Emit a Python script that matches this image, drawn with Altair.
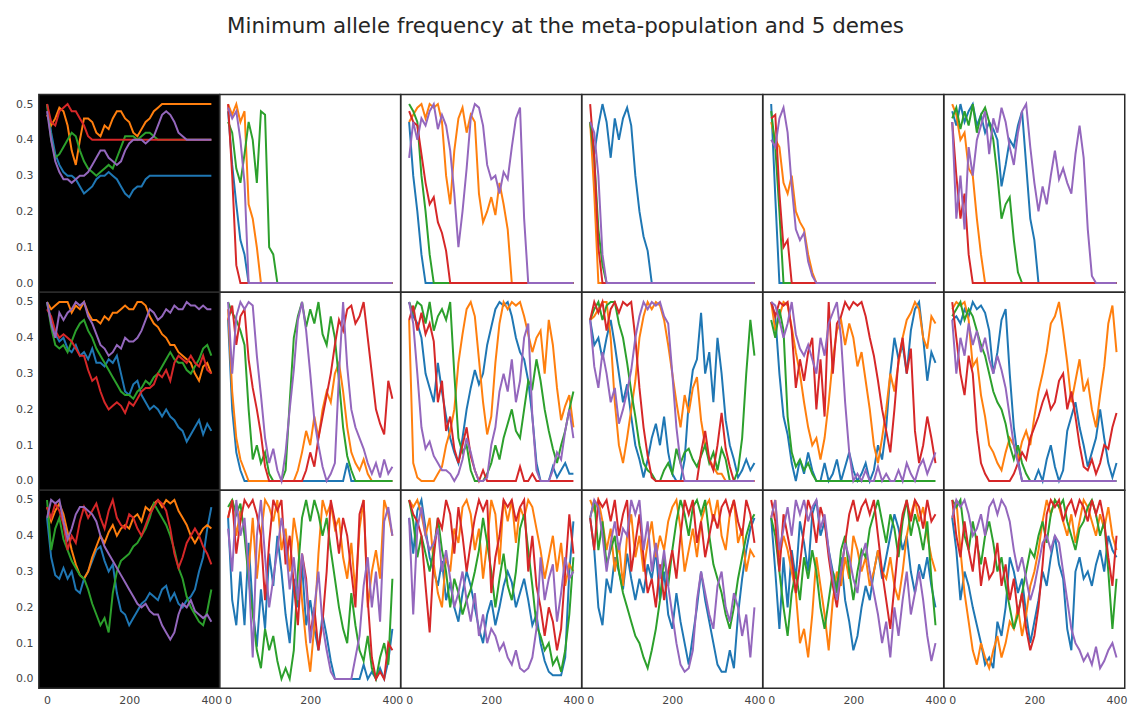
import altair as alt
import pandas as pd

GENERATIONS = list(range(0, 401, 10))
DEMES = ["deme 1", "deme 2", "deme 3", "deme 4", "deme 5"]
COLORS = ["#1f77b4", "#ff7f0e", "#2ca02c", "#d62728", "#9467bd"]
TITLE = "Minimum allele frequency at the meta-population and 5 demes"

# minimum allele frequency in hundredths, every 10 generations
# one list per line: blue, orange, green, red, purple

# row 1
r1c0 = [
    [50,42,36,33,31,30,30,29,27,25, 26,27,29,30,30,31,30,29,27,25, 24,26,27,27,29,30,30,30,30,30, 30,30,30,30,30,30,30,30,30,30, 30],
    [47,44,46,49,48,44,37,33,40,46, 46,45,42,41,44,43,46,48,48,46, 45,42,41,43,45,46,48,49,50,50, 50,50,50,50,50,50,50,50,50,50, 50],
    [50,40,35,36,38,40,42,41,37,34, 32,31,30,31,32,33,32,35,38,41, 41,41,40,41,42,42,41,40,40,40, 40,40,40,40,40,40,40,40,40,40, 40],
    [50,45,44,48,49,50,48,48,46,44, 41,40,40,40,40,40,40,40,40,40, 40,40,40,40,40,40,40,40,40,40, 40,40,40,40,40,40,40,40,40,40, 40],
    [48,40,34,31,29,29,28,29,30,30, 31,33,35,37,37,35,34,33,34,37, 39,40,40,40,39,40,41,44,47,48, 47,45,42,41,40,40,40,40,40,40, 40],
]
r1c1 = [
    [48,33,22,12,8,0,0,0,0,0, 0,0,0,0,0,0,0,0,0,0, 0,0,0,0,0,0,0,0,0,0, 0,0,0,0,0,0,0,0,0,0, 0],
    [50,47,50,45,48,22,18,10,0,0, 0,0,0,0,0,0,0,0,0,0, 0,0,0,0,0,0,0,0,0,0, 0,0,0,0,0,0,0,0,0,0, 0],
    [45,42,32,28,36,45,40,28,48,47, 10,8,0,0,0,0,0,0,0,0, 0,0,0,0,0,0,0,0,0,0, 0,0,0,0,0,0,0,0,0,0, 0],
    [50,30,5,0,0,0,0,0,0,0, 0,0,0,0,0,0,0,0,0,0, 0,0,0,0,0,0,0,0,0,0, 0,0,0,0,0,0,0,0,0,0, 0],
    [49,46,48,40,28,0,0,0,0,0, 0,0,0,0,0,0,0,0,0,0, 0,0,0,0,0,0,0,0,0,0, 0,0,0,0,0,0,0,0,0,0, 0],
]
r1c2 = [
    [45,30,20,8,0,0,0,0,0,0, 0,0,0,0,0,0,0,0,0,0, 0,0,0,0,0,0,0,0,0,0, 0,0,0,0,0,0,0,0,0,0, 0],
    [45,47,49,50,46,50,49,50,45,30, 22,37,46,49,42,47,45,25,17,20, 24,19,28,22,15,0,0,0,0,0, 0,0,0,0,0,0,0,0,0,0, 0],
    [50,48,45,30,20,8,0,0,0,0, 0,0,0,0,0,0,0,0,0,0, 0,0,0,0,0,0,0,0,0,0, 0,0,0,0,0,0,0,0,0,0, 0],
    [48,45,44,36,28,22,24,17,14,9, 0,0,0,0,0,0,0,0,0,0, 0,0,0,0,0,0,0,0,0,0, 0,0,0,0,0,0,0,0,0,0, 0],
    [35,45,40,46,44,48,50,43,47,44, 37,25,10,20,32,46,50,49,44,33, 29,30,25,31,29,38,46,49,18,0, 0,0,0,0,0,0,0,0,0,0, 0],
]
r1c3 = [
    [45,36,44,50,45,35,46,40,46,49, 44,30,20,13,9,0,0,0,0,0, 0,0,0,0,0,0,0,0,0,0, 0,0,0,0,0,0,0,0,0,0, 0],
    [45,25,0,0,0,0,0,0,0,0, 0,0,0,0,0,0,0,0,0,0, 0,0,0,0,0,0,0,0,0,0, 0,0,0,0,0,0,0,0,0,0, 0],
    [45,35,15,5,0,0,0,0,0,0, 0,0,0,0,0,0,0,0,0,0, 0,0,0,0,0,0,0,0,0,0, 0,0,0,0,0,0,0,0,0,0, 0],
    [50,35,10,0,0,0,0,0,0,0, 0,0,0,0,0,0,0,0,0,0, 0,0,0,0,0,0,0,0,0,0, 0,0,0,0,0,0,0,0,0,0, 0],
    [45,42,30,8,0,0,0,0,0,0, 0,0,0,0,0,0,0,0,0,0, 0,0,0,0,0,0,0,0,0,0, 0,0,0,0,0,0,0,0,0,0, 0],
]
r1c4 = [
    [50,24,0,0,0,0,0,0,0,0, 0,0,0,0,0,0,0,0,0,0, 0,0,0,0,0,0,0,0,0,0, 0,0,0,0,0,0,0,0,0,0, 0],
    [45,40,38,28,25,30,20,17,15,8, 3,0,0,0,0,0,0,0,0,0, 0,0,0,0,0,0,0,0,0,0, 0,0,0,0,0,0,0,0,0,0, 0],
    [48,38,20,0,0,0,0,0,0,0, 0,0,0,0,0,0,0,0,0,0, 0,0,0,0,0,0,0,0,0,0, 0,0,0,0,0,0,0,0,0,0, 0],
    [46,47,25,10,12,0,0,0,0,0, 0,0,0,0,0,0,0,0,0,0, 0,0,0,0,0,0,0,0,0,0, 0,0,0,0,0,0,0,0,0,0, 0],
    [40,38,46,49,42,27,15,12,14,6, 2,0,0,0,0,0,0,0,0,0, 0,0,0,0,0,0,0,0,0,0, 0,0,0,0,0,0,0,0,0,0, 0],
]
r1c5 = [
    [48,44,50,45,48,50,44,47,42,45, 43,40,27,33,40,38,44,48,33,18, 12,0,0,0,0,0,0,0,0,0, 0,0,0,0,0,0,0,0,0,0, 0],
    [50,47,40,42,32,30,18,8,0,0, 0,0,0,0,0,0,0,0,0,0, 0,0,0,0,0,0,0,0,0,0, 0,0,0,0,0,0,0,0,0,0, 0],
    [46,49,43,48,44,50,42,47,49,45, 40,30,18,22,24,12,3,0,0,0, 0,0,0,0,0,0,0,0,0,0, 0,0,0,0,0,0,0,0,0,0, 0],
    [45,30,18,25,8,0,0,0,0,0, 0,0,0,0,0,0,0,0,0,0, 0,0,0,0,0,0,0,0,0,0, 0,0,0,0,0,0,0,0,0,0, 0],
    [45,18,30,15,38,30,40,44,48,36, 46,42,49,45,38,33,42,48,50,38, 28,20,27,22,30,37,29,32,28,25, 36,44,35,15,2,0,0,0,0,0, 0],
]

# row 2
r2c0 = [
    [50,45,41,39,40,37,36,38,35,36, 34,37,33,33,32,34,33,35,30,25, 24,27,28,24,22,20,21,20,18,20, 18,17,15,14,11,13,15,17,13,16, 14],
    [50,48,49,50,50,50,47,49,48,50, 47,45,45,44,46,45,47,47,48,49, 48,48,50,50,49,46,44,43,41,40, 38,38,36,35,34,33,30,28,32,33, 30],
    [50,43,38,37,38,36,39,42,44,45, 42,40,37,35,33,31,29,27,25,24, 24,23,25,26,28,27,29,30,32,34, 36,34,33,33,31,30,32,34,37,38, 35],
    [48,46,42,40,41,40,39,37,35,35, 31,28,29,25,22,20,21,22,21,19, 22,21,23,25,26,26,27,30,29,31, 28,33,35,34,33,35,33,32,35,31, 30],
    [50,44,40,47,45,47,48,50,49,50, 46,44,41,38,37,35,36,38,37,40, 39,39,40,42,45,48,47,45,46,48, 47,49,48,48,50,49,49,48,49,48, 48],
]
r2c1 = [
    [45,20,8,3,0,0,0,0,0,0, 0,0,0,0,0,0,0,0,0,0, 0,0,0,0,0,0,0,0,0,5, 0,0,0,0,0,0,0,0,0,0, 0],
    [48,25,12,6,3,0,0,0,0,0, 0,0,0,0,0,0,0,3,8,14, 10,18,12,20,25,22,30,33,25,15, 8,5,3,6,2,0,0,0,0,0, 0],
    [50,47,45,42,38,20,6,10,5,8, 2,0,0,0,3,22,40,46,50,43, 48,44,50,41,38,46,40,28,15,7, 3,0,0,0,0,0,0,0,0,0, 0],
    [45,49,38,46,48,34,26,20,13,4, 0,0,0,0,0,0,0,0,0,3, 8,4,12,18,24,30,38,45,42,48, 49,44,46,50,40,30,20,16,13,28, 23],
    [50,30,46,50,48,50,49,35,24,12, 5,9,3,0,8,20,31,45,50,42, 30,17,10,4,0,2,5,30,50,32, 20,15,12,9,5,2,5,1,6,2, 4],
]
r2c2 = [
    [50,46,44,40,30,26,22,33,25,18, 12,8,5,12,20,26,31,27,30,38, 43,48,50,49,50,46,40,36,34,28, 18,5,0,0,0,4,1,3,5,2, 2],
    [45,5,1,0,0,0,0,2,4,10, 14,20,33,41,48,50,46,34,22,13, 18,33,44,50,48,50,49,50,46,41, 36,40,42,30,45,38,26,17,21,24, 15],
    [50,47,50,49,44,50,42,46,48,45, 50,30,12,8,10,3,0,0,0,2, 5,10,6,12,16,20,14,12,20,28, 26,34,28,20,14,9,5,10,14,20, 25],
    [45,49,42,47,41,44,39,22,28,14, 18,9,5,10,15,7,3,0,3,0, 0,0,0,0,0,0,0,4,0,0, 2,0,0,0,0,0,0,0,0,0, 0],
    [50,44,30,15,9,11,7,5,3,3, 2,0,2,6,12,8,3,0,0,1, 10,15,25,30,25,34,22,28,40,44, 18,3,0,0,0,3,8,6,14,20, 12],
]
r2c3 = [
    [45,38,40,34,40,45,38,30,22,27, 18,10,6,1,6,12,16,10,18,8, 2,0,0,6,22,31,34,47,30,36, 22,40,30,17,10,6,1,3,6,3, 5],
    [45,46,48,50,50,40,22,10,5,12, 20,28,40,46,50,48,50,49,45,38, 30,22,15,24,19,26,29,17,10,6, 4,2,2,0,0,0,0,0,0,0, 0],
    [45,48,50,45,49,50,50,44,40,33, 25,18,10,5,3,2,0,0,3,5, 2,9,5,8,9,6,4,7,10,5, 8,3,9,6,0,0,3,12,30,45, 35],
    [45,50,47,50,42,48,50,47,50,49, 50,40,26,15,7,1,0,0,0,0, 0,0,0,0,0,0,0,8,14,6, 3,10,19,9,4,0,0,0,0,0, 0],
    [45,32,26,36,30,22,26,16,20,25, 31,40,46,50,48,50,49,50,46,44, 30,15,5,0,0,0,0,0,0,0, 0,0,0,0,0,0,0,0,0,0, 0],
]
r2c4 = [
    [50,46,30,18,13,5,0,6,2,8, 3,0,0,5,0,2,6,0,4,8, 3,0,2,5,0,3,10,6,15,30, 40,34,38,30,42,48,50,40,28,36, 33],
    [50,42,46,50,49,43,36,30,22,15, 10,12,6,12,22,34,42,45,38,44, 40,32,36,28,20,10,5,12,20,30, 25,33,40,45,47,50,48,40,37,46, 44],
    [45,40,48,42,18,8,4,6,3,5, 2,0,0,0,0,0,0,0,0,0, 0,0,0,0,0,0,0,0,0,0, 0,0,0,0,0,0,0,0,0,0, 0],
    [50,46,50,49,50,42,26,34,28,36, 40,20,34,18,50,30,44,46,50,48, 50,49,50,46,40,35,28,20,14,8, 20,34,40,30,37,14,5,10,18,12, 5],
    [50,49,45,40,44,50,41,37,35,38, 34,30,40,35,44,47,50,40,22,8, 0,2,0,3,0,0,4,0,2,0, 0,3,0,5,2,0,4,6,2,5, 8],
]
r2c5 = [
    [45,46,44,48,46,50,48,49,47,42, 30,36,45,48,30,15,6,0,0,0, 0,3,0,6,10,4,0,3,14,18, 22,15,10,4,8,12,20,12,5,1, 5],
    [48,50,49,50,45,32,34,24,18,10, 8,5,3,8,12,10,6,11,14,10, 18,25,30,36,44,46,50,42,33,22, 28,34,25,28,20,15,24,32,44,49, 36],
    [46,48,50,45,48,46,42,38,35,30, 25,22,20,16,10,6,10,5,2,0, 0,0,0,0,0,0,0,0,0,0, 0,0,0,0,0,0,0,0,0,0, 0],
    [50,40,30,24,35,30,14,5,2,0, 0,0,0,0,0,2,5,8,6,12, 15,18,22,25,20,22,28,30,20,25, 18,10,4,3,6,2,5,10,9,15, 19],
    [45,30,40,35,44,38,42,36,40,34, 30,35,31,26,18,10,5,0,0,0, 0,0,0,0,0,0,0,0,0,0, 0,0,0,0,0,0,0,0,0,0, 0],
]

# row 3
r3c0 = [
    [45,34,29,28,31,28,30,25,24,28, 30,33,36,37,33,30,32,24,19,18, 15,17,19,21,22,24,23,22,25,26, 22,24,21,20,22,23,25,30,34,42, 48],
    [48,44,47,49,46,41,36,32,29,28, 30,34,37,40,38,41,43,40,42,43, 42,45,46,44,48,47,49,50,48,50, 49,50,47,45,43,40,38,40,42,43, 42],
    [50,36,42,45,39,36,33,31,29,28, 25,21,18,15,17,13,24,30,33,34, 35,37,38,40,42,45,49,47,45,43, 40,36,31,28,23,20,18,16,15,19, 25],
    [48,45,49,47,43,36,40,38,44,48, 45,47,49,45,42,47,50,45,43,42, 46,45,42,40,43,46,48,50,49,47, 42,35,31,34,38,40,42,40,37,35, 32],
    [45,50,49,50,44,39,42,46,48,48, 47,46,44,40,37,35,33,31,29,27, 25,23,21,20,21,19,18,18,15,13, 11,13,18,21,20,22,19,18,17,18, 16],
]
r3c1 = [
    [45,22,15,30,15,38,20,9,25,14, 35,26,40,30,18,10,28,20,32,15, 22,14,8,18,12,5,0,0,0,0, 0,0,0,4,0,2,0,3,0,5, 14],
    [45,50,40,47,42,30,45,28,40,50, 48,44,50,36,42,30,45,38,22,10, 2,15,35,50,46,49,42,45,34,28, 38,24,42,50,20,30,36,28,50,46, 40],
    [48,50,46,49,40,28,18,8,3,14, 8,12,5,0,3,0,8,30,45,50, 44,50,46,40,45,36,28,20,14,10, 24,15,8,5,12,3,0,6,10,4, 28],
    [45,50,35,44,50,48,50,46,40,22, 38,50,47,50,32,40,26,15,35,28, 12,20,8,16,30,50,44,35,45,40, 30,20,46,50,22,6,0,2,0,10, 8],
    [42,30,50,40,45,30,6,40,50,34, 20,28,36,45,38,25,34,22,35,26, 10,20,30,15,8,2,0,0,0,0, 0,6,12,26,34,20,30,16,44,48, 40],
]
r3c2 = [
    [45,35,47,50,42,34,30,26,33,22, 27,20,16,24,30,26,20,14,10,18, 22,15,20,26,30,27,20,24,28,22, 15,18,10,5,2,1,1,1,6,30, 44],
    [50,48,50,46,40,45,32,24,20,34, 30,42,38,48,50,46,36,42,28,38, 50,46,32,50,44,50,38,48,45,50, 48,42,36,28,34,40,30,38,26,32, 30],
    [50,44,34,40,35,30,36,45,36,30, 20,28,24,18,22,25,30,36,45,38, 30,20,28,35,26,22,30,42,46,36, 26,15,12,8,10,4,6,2,8,18, 34],
    [50,46,44,40,26,13,34,45,42,50, 46,35,48,40,30,38,45,50,47,50, 24,34,40,50,48,50,44,48,50,30, 40,26,20,12,20,16,8,14,30,46, 35],
    [45,18,42,48,40,36,38,42,30,36, 28,20,24,30,22,16,24,12,18,10, 14,12,8,10,6,4,8,3,2,3, 6,14,34,22,28,32,16,24,34,28, 30],
]
r3c3 = [
    [45,36,20,15,28,24,34,30,25,35, 28,22,28,24,32,28,36,22,30,18, 14,24,16,10,4,12,20,30,22,16, 10,4,2,2,8,3,18,28,36,42, 45],
    [50,47,50,44,36,42,30,38,26,40, 46,34,40,30,38,44,34,40,36,44, 48,50,42,30,36,42,34,44,48,50, 44,50,40,36,46,50,38,42,30,36, 34],
    [45,50,36,44,32,36,40,30,24,20, 16,12,10,6,3,8,14,22,34,26, 36,44,50,46,40,48,50,46,50,40, 32,28,24,18,14,20,28,34,40,44, 46],
    [45,36,50,48,50,44,50,40,46,50, 30,38,46,34,24,28,20,32,22,30, 36,28,40,50,46,50,38,44,34,40, 46,42,48,50,46,50,44,40,50,46, 38],
    [45,50,48,40,30,38,44,36,42,40, 50,46,50,36,44,30,38,28,36,26, 18,10,4,2,3,8,22,30,24,18, 14,26,30,20,16,24,20,12,18,6, 20],
]
r3c4 = [
    [45,30,14,34,20,36,28,44,38,30, 46,50,40,44,36,30,26,34,22,16, 8,12,20,26,22,30,36,28,34,40, 46,42,36,40,30,24,32,28,34,26, 20],
    [45,50,34,40,36,30,24,10,14,6, 18,34,26,18,8,22,30,26,34,28, 40,36,30,34,26,30,36,30,28,34, 26,22,30,40,46,50,44,48,40,34, 30],
    [45,40,30,20,12,24,30,22,34,28, 36,30,20,14,22,30,24,36,40,30, 22,30,36,34,42,46,50,44,38,46, 42,34,44,50,40,46,42,36,44,28, 15],
    [50,44,30,46,40,34,24,32,42,50, 46,38,48,44,34,26,20,30,38,46, 50,44,48,50,46,50,40,30,22,14, 26,38,46,50,44,50,48,42,50,44, 46],
    [45,50,36,42,48,40,50,46,50,44, 48,50,42,46,36,28,22,30,38,34, 28,24,34,38,30,24,18,10,16,6, 20,12,22,30,18,24,30,22,12,5, 10],
]
r3c5 = [
    [45,36,22,30,26,20,15,10,4,6, 3,16,12,20,34,30,24,28,18,10, 16,22,30,26,34,40,32,28,14,8, 30,34,28,30,26,32,36,30,40,36, 34],
    [45,50,36,24,16,8,4,10,6,3, 8,12,6,10,16,14,20,12,18,26, 30,36,44,50,46,50,48,44,40,46, 38,44,50,48,44,40,46,42,48,40, 36],
    [50,48,50,40,36,44,38,32,40,44, 38,30,34,26,20,14,18,24,30,36, 34,40,44,38,46,50,48,50,44,40, 36,42,44,48,50,46,40,44,30,14, 28],
    [50,40,34,44,36,30,40,26,34,28, 30,38,26,32,22,28,18,24,14,8, 12,20,32,46,50,48,50,44,48,50, 46,50,48,44,50,46,50,44,34,26, 40],
    [45,50,48,50,46,40,42,46,40,48, 50,46,50,48,44,36,30,34,28,22, 26,32,38,40,36,40,38,30,22,14, 10,8,5,7,4,9,3,5,8,10, 6],
]

PANELS = [
    [r1c0, r1c1, r1c2, r1c3, r1c4, r1c5],
    [r2c0, r2c1, r2c2, r2c3, r2c4, r2c5],
    [r3c0, r3c1, r3c2, r3c3, r3c4, r3c5],
]

records = []
for r, panel_row in enumerate(PANELS):
    for c, panel in enumerate(panel_row):
        for deme, values in zip(DEMES, panel):
            for gen, v in zip(GENERATIONS, values):
                records.append({"row": r, "col": c, "deme": deme, "gen": gen, "freq": v / 100})
df = pd.DataFrame(records)

W = 181.7
H = 199
FONT = "DejaVu Sans"


def panel_chart(r, c):
    if c == 0:
        y_axis = alt.Axis(values=[0, 0.1, 0.2, 0.3, 0.4, 0.5], format=".1f", title=None,
                          tickSize=0, domain=False, grid=False, labelPadding=6,
                          labelFont=FONT, labelFontSize=11, labelColor="#444444",
                          minExtent=25, maxExtent=25)
    else:
        y_axis = None
    if r == 2:
        x_axis = alt.Axis(values=[0, 200, 400], format="d", title=None, tickSize=0,
                          domain=False, grid=False, labelPadding=6, labelFlush=False,
                          labelFont=FONT, labelFontSize=11, labelColor="#444444")
    else:
        x_axis = None

    return alt.Chart(df).transform_filter(
        f"datum.row == {r} && datum.col == {c}"
    ).mark_line(strokeWidth=2).encode(
        x=alt.X("gen:Q", scale=alt.Scale(domain=[-20, 420], nice=False, zero=False), axis=x_axis),
        y=alt.Y("freq:Q", scale=alt.Scale(domain=[-0.026, 0.527], nice=False, zero=False), axis=y_axis),
        color=alt.Color("deme:N", scale=alt.Scale(domain=DEMES, range=COLORS), legend=None),
    ).properties(
        width=W,
        height=H,
        view=alt.ViewBackground(fill="black" if c == 0 else "white", stroke="#2a2a2a", strokeWidth=1.5),
    )


panels = [panel_chart(r, c) for r in range(3) for c in range(6)]

chart = alt.concat(*panels, columns=6, spacing=0, bounds="flush").properties(
    title=alt.TitleParams(TITLE, font=FONT, fontSize=21.5, fontWeight="normal", color="#262626",
                          anchor="middle", frame="bounds", offset=56, dx=-5),
    padding={"left": 5, "top": 6, "right": 5, "bottom": 0},
    background="white",
)

chart.save("out.html", embed_options={"renderer": "svg", "actions": False})
